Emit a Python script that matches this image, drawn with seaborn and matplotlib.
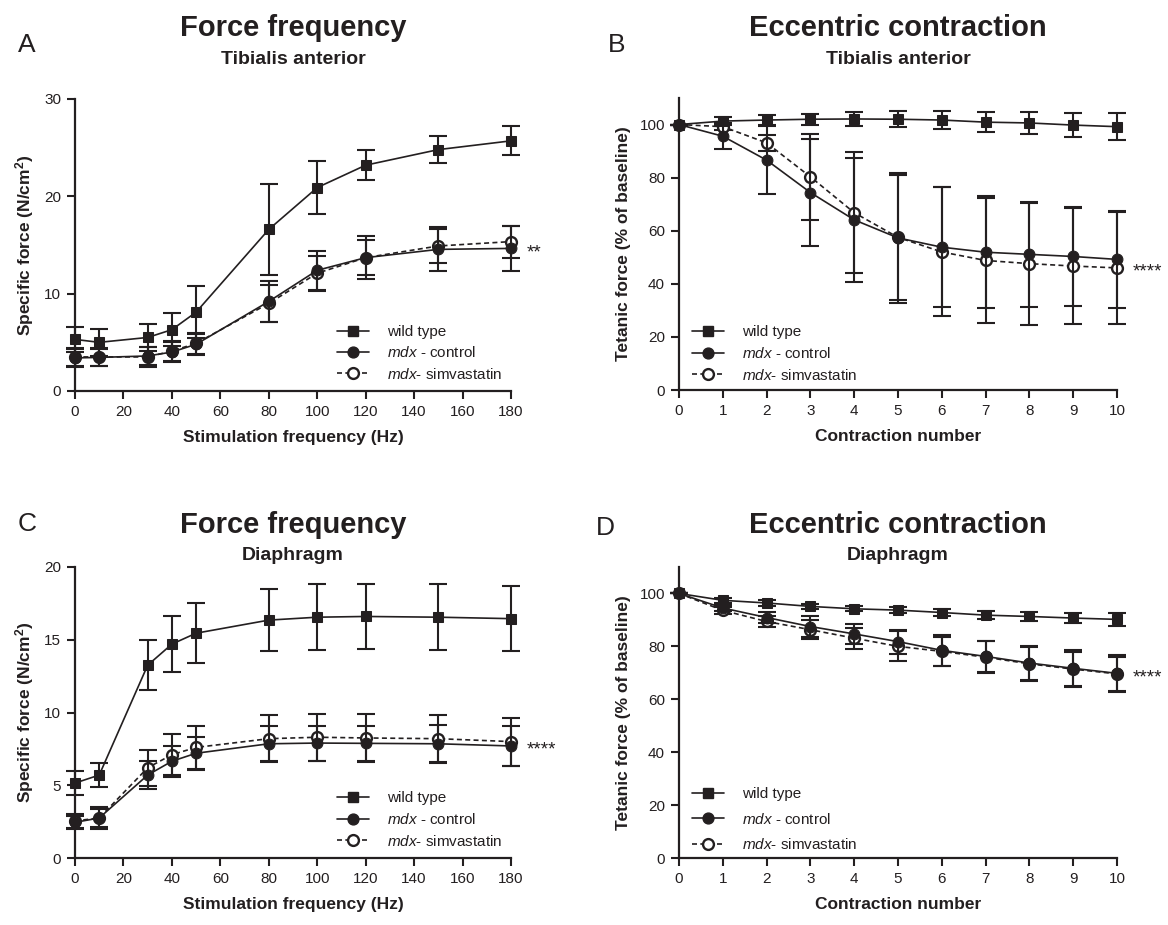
import numpy as np
import pandas as pd
import matplotlib
matplotlib.use("Agg")
import matplotlib.pyplot as plt
import seaborn as sns
from matplotlib.lines import Line2D

# ---------------- data ----------------
freq = [0, 10, 30, 40, 50, 80, 100, 120, 150, 180]
contraction = [0, 1, 2, 3, 4, 5, 6, 7, 8, 9, 10]

# A: Force frequency, Tibialis anterior
ta_ff_wt = [5.3, 5.0, 5.5, 6.3, 8.1, 16.6, 20.9, 23.2, 24.8, 25.7]
ta_ff_wt_err = [1.3, 1.4, 1.35, 1.7, 2.7, 4.65, 2.7, 1.55, 1.4, 1.5]
ta_ff_ctrl = [3.4, 3.45, 3.6, 4.0, 4.8, 9.2, 12.4, 13.7, 14.55, 14.65]
ta_ff_ctrl_err = [0.9, 0.9, 0.9, 1.0, 1.1, 2.1, 2.0, 2.2, 2.25, 2.35]
ta_ff_simva = [3.5, 3.5, 3.5, 4.1, 4.9, 9.0, 12.1, 13.7, 14.9, 15.35]
ta_ff_simva_err = [0.9, 0.9, 1.0, 1.0, 1.1, 1.9, 1.8, 1.8, 1.7, 1.65]

# B: Eccentric contraction, Tibialis anterior
ta_ec_wt = [100, 101.3, 101.7, 102.0, 102.1, 102.0, 101.7, 100.9, 100.6, 99.8, 99.2]
ta_ec_wt_err = [0, 1.5, 2.0, 2.0, 2.8, 3.0, 3.3, 3.7, 4.1, 4.5, 5.0]
ta_ec_ctrl = [100, 95.6, 86.6, 74.4, 64.1, 57.3, 53.8, 51.9, 51.1, 50.3, 49.2]
ta_ec_ctrl_err = [0, 4.8, 12.8, 20.0, 23.4, 24.5, 22.5, 21.0, 19.7, 18.7, 18.3]
ta_ec_simva = [100, 99.2, 93.1, 80.3, 66.8, 57.5, 52.0, 48.8, 47.6, 46.7, 46.0]
ta_ec_simva_err = [0, 1.2, 3.0, 16.2, 22.8, 23.6, 24.3, 23.6, 23.0, 22.0, 21.0]

# C: Force frequency, Diaphragm
dia_ff_wt = [5.15, 5.7, 13.25, 14.7, 15.45, 16.35, 16.55, 16.6, 16.55, 16.45]
dia_ff_wt_err = [0.8, 0.85, 1.7, 1.95, 2.05, 2.15, 2.25, 2.25, 2.25, 2.25]
dia_ff_ctrl = [2.45, 2.75, 5.7, 6.65, 7.2, 7.85, 7.9, 7.88, 7.85, 7.7]
dia_ff_ctrl_err = [0.45, 0.75, 0.95, 1.05, 1.15, 1.2, 1.2, 1.2, 1.3, 1.35]
dia_ff_simva = [2.55, 2.75, 6.2, 7.1, 7.6, 8.2, 8.3, 8.25, 8.2, 8.0]
dia_ff_simva_err = [0.5, 0.6, 1.25, 1.4, 1.5, 1.6, 1.6, 1.65, 1.6, 1.65]

# D: Eccentric contraction, Diaphragm
dia_ec_wt = [100, 97.4, 96.4, 95.1, 94.2, 93.7, 92.8, 91.8, 91.3, 90.7, 90.2]
dia_ec_wt_err = [0, 1.0, 1.0, 1.0, 1.0, 1.0, 1.2, 1.5, 1.8, 2.0, 2.4]
dia_ec_ctrl = [100, 94.5, 90.9, 87.5, 84.7, 81.8, 78.5, 76.2, 73.7, 71.7, 69.8]
dia_ec_ctrl_err = [0, 1.2, 2.0, 3.8, 3.8, 4.5, 5.8, 6.0, 6.5, 7.0, 6.9]
dia_ec_simva = [100, 93.6, 89.4, 86.3, 83.1, 80.0, 78.1, 75.9, 73.4, 71.4, 69.6]
dia_ec_simva_err = [0, 1.2, 2.0, 3.5, 4.0, 5.7, 5.5, 6.0, 6.5, 6.5, 6.4]

labels = ["wild type", r"$\it{mdx}$ - control", r"$\it{mdx}$- simvastatin"]

# ---------------- style ----------------
sns.set_style("ticks")
plt.rcParams["font.family"] = ["Liberation Sans", "DejaVu Sans"]
plt.rcParams["mathtext.fontset"] = "custom"
plt.rcParams["mathtext.rm"] = "Liberation Sans"
plt.rcParams["mathtext.it"] = "Liberation Sans:italic"
plt.rcParams["mathtext.bf"] = "Liberation Sans:bold"

K = "#231f20"
W, H = 1168, 925
fig = plt.figure(figsize=(W / 100, H / 100), dpi=100)


def fx(x):
    return x / W


def fy(y):
    return 1 - y / H


def make_ax(l, r, t, b):
    return fig.add_axes([fx(l), fy(b), fx(r) - fx(l), fy(t) - fy(b)])


MS = 7.8
LW = 1.2
ELW = 1.5
CAP = 6.5


def draw_panel(ax, x, wt, wte, ct, cte, sv, sve):
    # simvastatin (dashed, open circle)
    ax.errorbar(x, sv, yerr=sve, fmt="none", ecolor=K, elinewidth=ELW,
                capsize=CAP, capthick=ELW, clip_on=False, zorder=2)
    sns.lineplot(x=x, y=sv, ax=ax, color=K, lw=LW, linestyle=(0, (3, 2)),
                 marker="o", markersize=MS, markerfacecolor="white",
                 markeredgecolor=K, markeredgewidth=1.7, clip_on=False,
                 zorder=3)
    # mdx control
    ax.errorbar(x, ct, yerr=cte, fmt="none", ecolor=K, elinewidth=ELW,
                capsize=CAP, capthick=ELW, clip_on=False, zorder=4)
    sns.lineplot(x=x, y=ct, ax=ax, color=K, lw=LW, marker="o",
                 markersize=MS, markerfacecolor=K, markeredgecolor=K,
                 clip_on=False, zorder=5)
    # wild type
    ax.errorbar(x, wt, yerr=wte, fmt="none", ecolor=K, elinewidth=ELW,
                capsize=CAP, capthick=ELW, clip_on=False, zorder=6)
    sns.lineplot(x=x, y=wt, ax=ax, color=K, lw=LW, marker="s",
                 markersize=MS - 0.5, markerfacecolor=K, markeredgecolor=K,
                 clip_on=False, zorder=7)


def style_ax(ax, xlabel, ylabel):
    sns.despine(ax=ax)
    for s in ["left", "bottom"]:
        ax.spines[s].set_linewidth(1.6)
        ax.spines[s].set_color(K)
    ax.tick_params(axis="both", direction="out", length=6, width=1.5,
                   colors=K, labelsize=11, pad=4)
    ax.set_xlabel(xlabel, fontsize=12.5, fontweight="bold", color=K,
                  labelpad=8)
    ax.set_ylabel(ylabel, fontsize=12.5, fontweight="bold", color=K,
                  labelpad=6)


def legend(ax, x0, y0, spacing):
    handles = [
        Line2D([], [], color=K, lw=LW, marker="s", ms=MS - 0.5, mfc=K, mec=K),
        Line2D([], [], color=K, lw=LW, marker="o", ms=MS, mfc=K, mec=K),
        Line2D([], [], color=K, lw=LW, linestyle=(0, (3, 2)), marker="o",
               ms=MS, mfc="white", mec=K, mew=1.7),
    ]
    leg = ax.legend(handles, labels, loc="upper left",
                    bbox_to_anchor=(fx(x0), fy(y0)),
                    bbox_transform=fig.transFigure, frameon=False,
                    fontsize=11, handlelength=2.1, handletextpad=1.2,
                    labelspacing=spacing, borderpad=0, borderaxespad=0)
    for t in leg.get_texts():
        t.set_color(K)


def stars(ax, x, y, s):
    ax.annotate(s, xy=(x, y), xytext=(11, -3), textcoords="offset points",
                ha="left", va="center", fontsize=13.5, color=K,
                annotation_clip=False)


# ---------- Panel A ----------
axA = make_ax(75, 511, 99, 391)
draw_panel(axA, freq, ta_ff_wt, ta_ff_wt_err, ta_ff_ctrl, ta_ff_ctrl_err,
           ta_ff_simva, ta_ff_simva_err)
axA.set_xlim(0, 180)
axA.set_ylim(0, 30)
axA.set_xticks(np.arange(0, 181, 20))
axA.set_yticks([0, 10, 20, 30])
style_ax(axA, "Stimulation frequency (Hz)", r"Specific force (N/cm$^\mathbf{2}$)")
legend(axA, 337, 325, 0.42)
stars(axA, 180, ta_ff_ctrl[-1], "**")

# ---------- Panel B ----------
axB = make_ax(679, 1117, 98, 390)
draw_panel(axB, contraction, ta_ec_wt, ta_ec_wt_err, ta_ec_ctrl,
           ta_ec_ctrl_err, ta_ec_simva, ta_ec_simva_err)
axB.set_xlim(0, 10)
axB.set_ylim(0, 110)
axB.set_xticks(range(0, 11))
axB.set_yticks(range(0, 101, 20))
style_ax(axB, "Contraction number", "Tetanic force (% of baseline)")
legend(axB, 692, 325, 0.45)
stars(axB, 10, ta_ec_simva[-1], "****")

# ---------- Panel C ----------
axC = make_ax(75, 511, 567, 858)
draw_panel(axC, freq, dia_ff_wt, dia_ff_wt_err, dia_ff_ctrl, dia_ff_ctrl_err,
           dia_ff_simva, dia_ff_simva_err)
axC.set_xlim(0, 180)
axC.set_ylim(0, 20)
axC.set_xticks(np.arange(0, 181, 20))
axC.set_yticks([0, 5, 10, 15, 20])
style_ax(axC, "Stimulation frequency (Hz)", r"Specific force (N/cm$^\mathbf{2}$)")
legend(axC, 337, 791, 0.45)
stars(axC, 180, dia_ff_ctrl[-1], "****")

# ---------- Panel D ----------
axD = make_ax(679, 1117, 567, 858)
draw_panel(axD, contraction, dia_ec_wt, dia_ec_wt_err, dia_ec_ctrl,
           dia_ec_ctrl_err, dia_ec_simva, dia_ec_simva_err)
axD.set_xlim(0, 10)
axD.set_ylim(0, 110)
axD.set_xticks(range(0, 11))
axD.set_yticks(range(0, 101, 20))
style_ax(axD, "Contraction number", "Tetanic force (% of baseline)")
legend(axD, 692, 787, 0.7)
stars(axD, 10, dia_ec_ctrl[-1], "****")

# ---------- titles & panel letters ----------
titles = [
    ("A", 27, 45, 293, "Force frequency", "Tibialis anterior"),
    ("B", 617, 45, 898, "Eccentric contraction", "Tibialis anterior"),
    ("C", 27, 524, 293, "Force frequency", "Diaphragm"),
    ("D", 605, 528, 898, "Eccentric contraction", "Diaphragm"),
]
title_y = {"A": (28, 59), "B": (28, 59), "C": (525, 555), "D": (525, 555)}
for letter, lx, ly, cx, t1, t2 in titles:
    fig.text(fx(lx), fy(ly), letter, fontsize=19, color=K, ha="center",
             va="center")
    y1, y2 = title_y[letter]
    fig.text(fx(cx), fy(y1), t1, fontsize=21, fontweight="bold", color=K,
             ha="center", va="center")
    fig.text(fx(cx), fy(y2), t2, fontsize=14, fontweight="bold", color=K,
             ha="center", va="center")

fig.savefig("out.png", dpi=100, facecolor="white")
